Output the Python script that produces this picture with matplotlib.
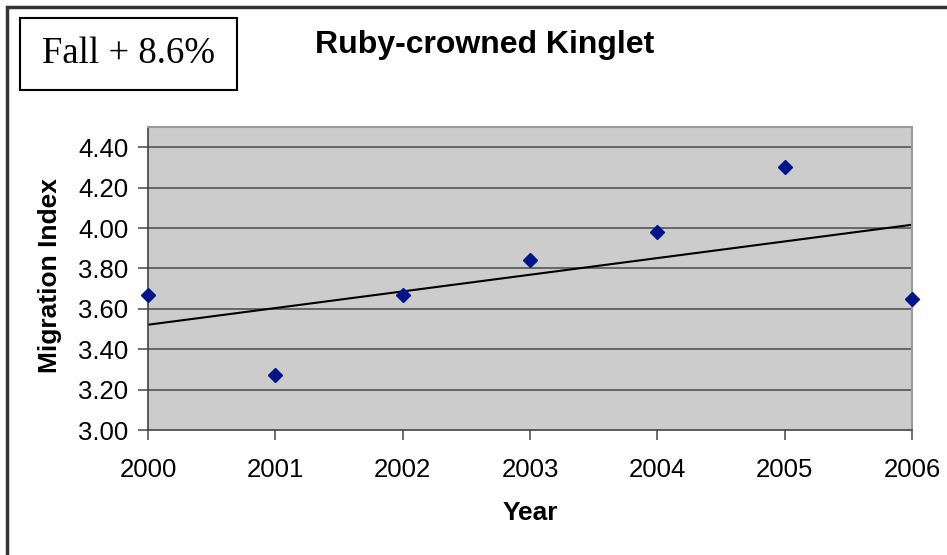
import matplotlib.pyplot as plt
import numpy as np
from matplotlib.patches import Rectangle

plt.rcParams["font.family"] = ["Liberation Sans", "DejaVu Sans"]

# data
years = [2000, 2001, 2002, 2003, 2004, 2005, 2006]
index = [3.67, 3.27, 3.67, 3.84, 3.98, 4.30, 3.65]
yticks = [3.00, 3.20, 3.40, 3.60, 3.80, 4.00, 4.20, 4.40]

fig = plt.figure(figsize=(9.47, 5.55), dpi=100)
ax = fig.add_axes([148/947, 1 - 430/555, (912 - 148)/947, (430 - 127)/555])

ax.set_facecolor("#cccccc")
for y in yticks[1:]:
    ax.axhline(y, color="#555555", lw=1.2, zorder=1)

# trend line (linear fit)
k, b = np.polyfit(years, index, 1)
xs = np.array([years[0], years[-1]])
ax.plot(xs, k*xs + b, color="black", lw=1.5, zorder=2)

ax.plot(years, index, "D", color="#00148c", ms=7, zorder=3, clip_on=False)

ax.set_xlim(2000, 2006)
ax.set_ylim(3.0, 4.5)
ax.set_xticks(years)
ax.set_yticks(yticks)
ax.set_yticklabels(["{:.2f}".format(v) for v in yticks])
ax.tick_params(axis="both", labelsize=18.5, length=7, color="#555555", width=1.2)
ax.tick_params(axis="x", pad=13)
ax.tick_params(axis="y", pad=7)

for s in ["top", "right"]:
    ax.spines[s].set_color("#999999")
    ax.spines[s].set_linewidth(1.5)
for s in ["left", "bottom"]:
    ax.spines[s].set_color("#444444")
    ax.spines[s].set_linewidth(1.2)

fig.text(530/947, 1 - 513/555, "Year", ha="center", va="center",
         fontsize=19, fontweight="bold")
fig.text(50/947, 1 - 276/555, "Migration Index", ha="center", va="center",
         rotation=90, fontsize=19, fontweight="bold")
fig.text(485/947, 1 - 45/555, "Ruby-crowned Kinglet", ha="center", va="center",
         fontsize=23, fontweight="bold")

# box with the percentage
fig.patches.append(Rectangle((20/947, 1 - 90/555), 217/947, 72/555,
                             transform=fig.transFigure, fill=False,
                             edgecolor="black", lw=1.5))
fig.text(128/947, 1 - 54/555, "Fall + 8.6%", ha="center", va="center",
         fontsize=26.5, family="Liberation Serif")

# outer frame (only top and left edge visible)
fig.patches.append(Rectangle((7/947, -0.1), 1.2, 1 - 7/555 + 0.1,
                             transform=fig.transFigure, fill=False,
                             edgecolor="#333333", lw=2.5))

fig.savefig("out.png", dpi=100)
